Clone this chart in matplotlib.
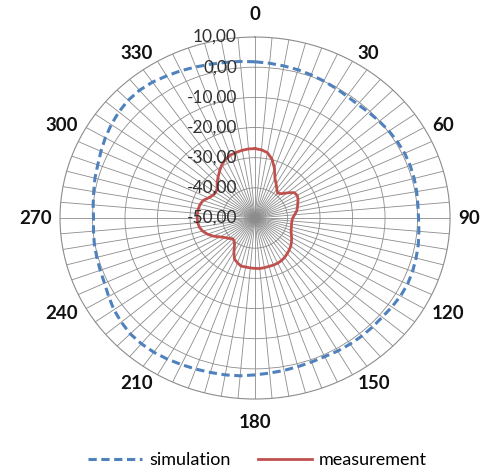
import numpy as np
import matplotlib
matplotlib.use("Agg")
from matplotlib import pyplot as plt

# angles in degrees, one value every 5 degrees
angles = np.arange(0, 360, 5)

# simulation (dB)
simulation = [1.8, 1.5, 1.2, 0.9, 0.5, 0.1, -0.3, -0.7, -0.8, -0.5,
              -0.1, 0.3, 0.6, 0.8, 0.8, 0.7, 0.5, 0.3, 0.3, 0.6,
              1.0, 1.3, 1.6, 1.8, 1.7, 1.4, 1.1, 1.1, 1.1, 1.0,
              0.9, 0.7, 0.8, 1.0, 1.3, 1.6, 2.0, 2.5, 2.8, 3.0,
              3.3, 3.6, 4.0, 4.3, 4.4, 4.3, 3.7, 3.0, 2.0, 1.1,
              0.7, 0.4, 0.2, -0.1, -0.3, 0.0, 0.4, 1.0, 1.5, 2.3,
              3.2, 4.0, 4.7, 5.2, 5.3, 5.0, 4.4, 3.9, 3.3, 2.8,
              2.4, 2.1]

# measurement (dB)
measurement = [-27.0, -27.3, -28.0, -29.8, -32.5, -35.5, -37.0, -38.3, -39.2, -38.6,
               -37.0, -35.3, -35.0, -35.4, -36.0, -36.5, -37.0, -37.8, -38.4, -38.6,
               -38.6, -38.4, -38.2, -37.7, -37.0, -36.3, -35.6, -35.1, -34.6, -34.1,
               -33.7, -33.5, -33.4, -33.4, -33.3, -33.2, -33.3, -33.4, -33.5, -33.5,
               -34.2, -35.0, -37.0, -39.0, -40.0, -40.3, -39.5, -38.7, -37.5, -35.8,
               -34.4, -33.3, -32.6, -32.3, -32.2, -32.2, -32.3, -32.5, -33.0, -34.2,
               -35.0, -35.2, -34.8, -33.5, -32.3, -31.0, -29.6, -28.5, -27.8, -27.5,
               -27.2, -27.0]

label_angles = [0, 30, 60, 90, 120, 150, 180, 210, 240, 270, 300, 330]

r_ticks = [10, 0, -10, -20, -30, -40, -50]
r_labels = ["10,00", "0,00", "-10,00", "-20,00", "-30,00", "-40,00", "-50,00"]

grid_col = "#8c8c8c"

fig = plt.figure(figsize=(4.86, 4.73), dpi=100)
ax = fig.add_axes([0.1235, 0.1564, 0.8025, 0.7653], projection="polar")
ax.set_aspect("auto")
ax.set_theta_zero_location("N")
ax.set_theta_direction(-1)
ax.set_ylim(-50, 10)

# closed curves
th = np.deg2rad(np.append(angles, 360))
sim = np.append(simulation, simulation[0])
meas = np.append(measurement, measurement[0])

ax.plot(th, sim, color="#4f81bd", lw=2.2, linestyle=(0, (2.7, 1.5)),
        label="simulation", zorder=3)
ax.plot(th, meas, color="#c0504d", lw=2.0, label="measurement", zorder=3)

# spokes every 5 degrees
ax.set_xticks(np.deg2rad(angles))
ax.set_xticklabels([])
ax.set_yticks([-40, -30, -20, -10, 0])
ax.set_yticklabels([])
ax.grid(True, color=grid_col, lw=0.6)
ax.spines["polar"].set_color(grid_col)
ax.spines["polar"].set_linewidth(0.8)

# category labels, placed excel-like just outside the outer ring
for a in label_angles:
    s = np.sin(np.deg2rad(a))
    c = np.cos(np.deg2rad(a))
    if abs(s) < 0.01:
        ha, dx = "center", 0
    elif abs(c) > 0.8:
        ha, dx = ("left", 5) if s > 0 else ("right", -5)
    else:
        ha, dx = ("left", 8) if s > 0 else ("right", -8)
    if a == 0:
        va, dy = "bottom", 14
    elif a == 180:
        va, dy = "top", -15
    elif abs(c) > 0.8:
        va, dy = ("bottom", -1) if c > 0 else ("top", 0)
    elif abs(c) > 0.1:
        va, dy = ("center", 2) if c > 0 else ("center", -4.5)
    else:
        va, dy = "center", 0
    ax.annotate(str(a), xy=(np.deg2rad(a), 10), xytext=(dx * 0.72, dy * 0.72),
                textcoords="offset points", ha=ha, va=va, fontsize=13.5,
                fontweight="bold", family="Lato", color="#111111",
                annotation_clip=False)

for r, lab in zip(r_ticks, r_labels):
    ax.annotate(lab, xy=(0, r), xytext=(-13, 0), textcoords="offset points",
                ha="right", va="center", fontsize=12.5, family="Lato",
                color="#303030", zorder=4)

fig.legend(loc="center", bbox_to_anchor=(0.53, 0.027), ncol=2, frameon=False,
           prop={"family": "Lato", "size": 13}, handlelength=3.0,
           columnspacing=1.5, handletextpad=0.4)

fig.savefig("out.png", dpi=100)
